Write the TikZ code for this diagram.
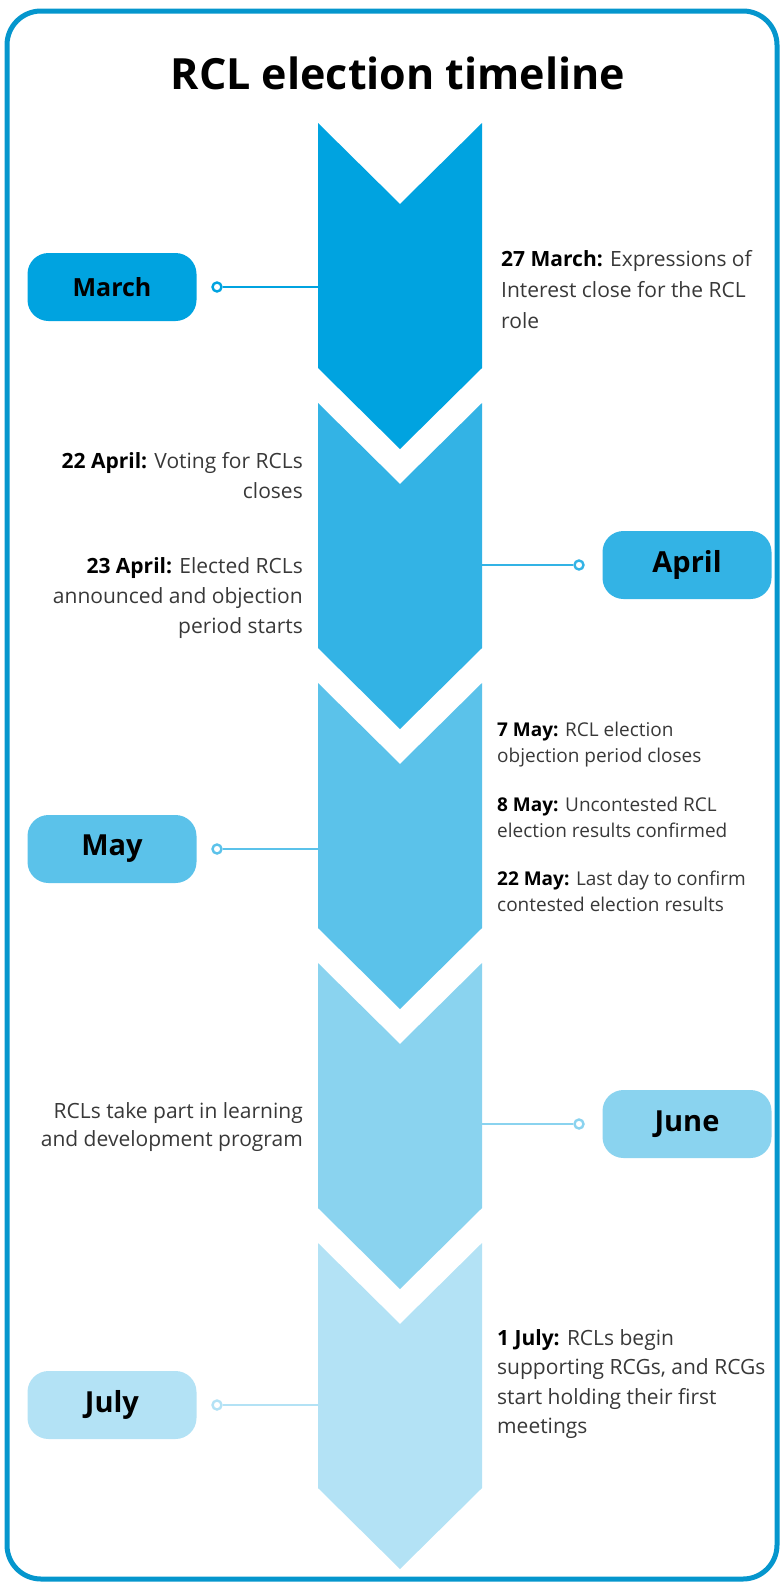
\documentclass[tikz,border=0pt]{standalone}
\usepackage{fontspec}
\setmainfont{Open Sans}
\definecolor{frameblue}{HTML}{0596CD}
\definecolor{tone1}{HTML}{00A3E0}
\definecolor{tone2}{HTML}{33B3E5}
\definecolor{tone3}{HTML}{5BC2EA}
\definecolor{tone4}{HTML}{8AD3EF}
\definecolor{tone5}{HTML}{B3E2F5}
\begin{document}
\begin{tikzpicture}[x=1pt,y=-1pt,
    month/.style={rounded corners=21pt, minimum width=169pt, minimum height=68pt,
      inner sep=0pt, text=black, font=\bfseries\fontsize{29}{34}\selectfont},
    dot/.style={circle, line width=2.4pt, fill=white, minimum size=9pt, inner sep=0pt},
    link/.style={line width=2.4pt},
    note/.style={inner sep=0pt, text=black!78, font=\fontsize{21}{30}\selectfont},
    smallnote/.style={inner sep=0pt, text=black!78, font=\fontsize{19}{25.5}\selectfont}]
  \useasboundingbox (0,0) rectangle (779,1582);
  \draw[frameblue, line width=5pt, rounded corners=34pt] (7,11) rectangle (777,1579);
  \node[anchor=base, font=\bfseries\fontsize{43}{50}\selectfont] (title) at (398,89) {RCL election timeline};
  % chevrons
  \foreach \c [count=\k from 0] in {tone1,tone2,tone3,tone4,tone5} {
    \pgfmathsetmacro\t{123+280*\k}
    \fill[\c] (318,\t) -- (400,\t+81) -- (482,\t) -- (482,\t+245)
      -- (400,\t+326) -- (318,\t+245) -- cycle;
  }
  % months
  \node[month, fill=tone1, font=\bfseries\fontsize{25}{30}\selectfont] (march) at (112,287) {March};
  \node[month, fill=tone2] (april) at (687,565) {April};
  \node[month, fill=tone3] (may) at (112,849) {May};
  \node[month, fill=tone4] (june) at (687,1124) {June};
  \node[month, fill=tone5] (july) at (112,1405) {July};
  \node[dot, draw=tone1] (d1) at (217,287) {};
  \node[dot, draw=tone2] (d2) at (579,565) {};
  \node[dot, draw=tone3] (d3) at (217,849) {};
  \node[dot, draw=tone4] (d4) at (579,1124) {};
  \node[dot, draw=tone5] (d5) at (217,1405) {};
  \coordinate (e1) at (318,287);
  \coordinate (e2) at (482,565);
  \coordinate (e3) at (318,849);
  \coordinate (e4) at (482,1124);
  \coordinate (e5) at (318,1405);
  \draw[link, tone1] (d1) -- (e1);
  \draw[link, tone2] (d2) -- (e2);
  \draw[link, tone3] (d3) -- (e3);
  \draw[link, tone4] (d4) -- (e4);
  \draw[link, tone5] (d5) -- (e5);
  % notes
  \node[note, anchor=north west, align=left, font=\fontsize{21}{31}\selectfont] (n1) at (501,250)
    {\textbf{\color{black}27 March:} Expressions of\\Interest close for the RCL\\role};
  \node[note, anchor=north east, align=right] (n2a) at (303,452)
    {\textbf{\color{black}22 April:} Voting for RCLs\\closes};
  \node[note, anchor=north east, align=right] (n2b) at (303,557)
    {\textbf{\color{black}23 April:} Elected RCLs\\announced and objection\\period starts};
  \node[smallnote, anchor=north west, align=left] (n3a) at (497,722)
    {\textbf{\color{black}7 May:} RCL election\\objection period closes};
  \node[smallnote, anchor=north west, align=left] (n3b) at (497,797)
    {\textbf{\color{black}8 May:} Uncontested RCL\\election results confirmed};
  \node[smallnote, anchor=north west, align=left] (n3c) at (497,871)
    {\textbf{\color{black}22 May:} Last day to confirm\\contested election results};
  \node[note, anchor=north east, align=right, font=\fontsize{21}{28}\selectfont] (n4) at (303,1102)
    {RCLs take part in learning\\and development program};
  \node[note, anchor=north west, align=left, font=\fontsize{21}{29.5}\selectfont] (n5) at (497,1329)
    {\textbf{\color{black}1 July:} RCLs begin\\supporting RCGs, and RCGs\\start holding their first\\meetings};
\end{tikzpicture}
\end{document}
